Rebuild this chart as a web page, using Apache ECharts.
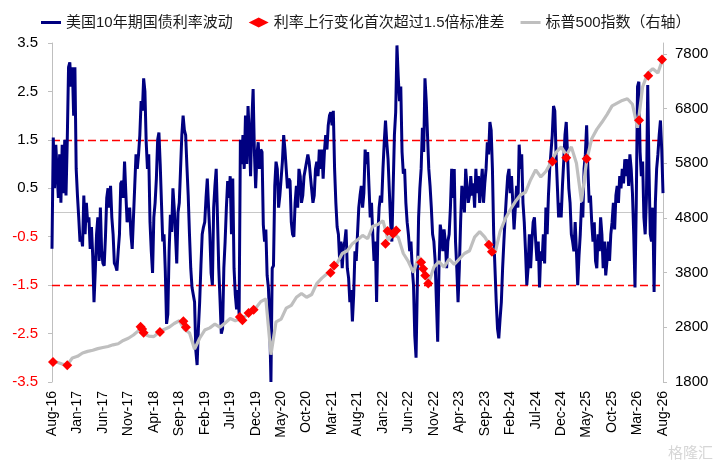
<!DOCTYPE html>
<html>
<head>
<meta charset="utf-8">
<script src="https://cdn.jsdelivr.net/npm/echarts@6/dist/echarts.min.js"></script>
<style>
  html, body { margin: 0; padding: 0; background: #fff; }
  #main { width: 717px; height: 464px; }
</style>
</head>
<body>
<div id="main"></div>
<script>
// x axis tick labels, one every 5 months starting Aug-16
var xLabels = ['Aug-16','Jan-17','Jun-17','Nov-17','Apr-18','Sep-18','Feb-19','Jul-19','Dec-19',
  'May-20','Oct-20','Mar-21','Aug-21','Jan-22','Jun-22','Nov-22','Apr-23','Sep-23','Feb-24',
  'Jul-24','Dec-24','May-25','Oct-25','Mar-26','Aug-26'];

// 美国10年期国债利率波动, quarter-month steps from Aug-16 (one row = 5 months)
var rateVol = [
  -0.75, 1.55, 0.5, 1.4, 1.4, 0.3, 1.2, 0.2, 1.4, 0.4, 1.5, 0.35, 1.5, 3.0, 3.1, 2.6, 3.0, 2.0, 3.0, 0.9,
  0.35, -0.1, -0.6, -0.5, -0.7, 0.35, -0.45, 0.2, -0.2, -0.1, -0.75, -0.3, -0.9, -1.85, -1.2, -0.45, -0.1, -1.0, 0.1, -0.8,
  -1.05, -1.1, -0.5, 0.3, 0.5, 0.1, 0.55, -0.1, -0.45, -1.05, -1.1, -1.2, -0.8, -0.45, 0.6, 0.65, 0.3, 1.05, 0.4, -0.2,
  -0.2, 0.1, -0.45, -0.75, -0.75, 0.55, 1.2, 0.9, 1.2, 1.6, 2.3, 2.1, 2.77, 2.5, 1.45, 0.9, 1.2, -0.2, -0.8, -1.25,
  -0.1, 0.2, 0.7, 1.5, 1.65, 1.0, 0.2, -0.6, -0.45, -1.2, -2.3, -2.1, -0.8, -0.05, -0.4, 0.5, 0.1, -0.45, -1.05, 0.0,
  0.2, 0.9, 1.6, 2.0, 1.7, 1.6, 0.95, 0.35, -0.45, -1.15, -1.55, -1.7, -1.85, -2.85, -3.15, -2.4, -1.85, -1.1, -0.45, -0.3,
  -0.2, 0.3, 0.7, 0.1, -0.45, -1.25, -1.5, 0.1, 0.55, 0.9, -0.1, -1.15, -1.8, -2.5, -2.4, -1.15, -0.6, 0.1, 0.65, 0.3,
  0.75, -0.45, 0.7, -1.15, -1.7, -2.0, -1.6, -2.1, 1.5, 1.0, 1.6, 0.9, 2.0, 1.0, 2.2, 1.6, 0.75, 1.9, 2.55, 1.25,
  0.5, 1.2, 1.45, 0.9, 1.3, 1.25, -0.25, -0.6, -0.35, -1.3, -1.55, -2.2, -3.5, -1.15, -1.1, 0.55, 1.05, 0.9, 0.1, 0.35,
  0.35, 1.05, 1.6, 1.3, 0.9, 0.5, 0.7, 0.65, -0.2, -0.45, -0.5, 0.2, 0.55, 0.1, 0.9, 0.75, 0.2, 0.35, 0.75, 0.9,
  0.9, 1.2, 1.05, 0.75, 0.75, 0.2, 0.35, 0.9, 1.05, 0.75, 1.3, 0.9, 1.3, 0.7, 1.25, 1.6, 1.3, 1.8, 2.0, 2.07,
  1.8, 2.1, 0.9, 0.2, -0.3, -0.45, -1.0, -0.6, -1.15, -0.7, -0.6, -0.35, -1.15, -1.35, -1.85, -1.6, -2.25, -1.7, -0.8, -1.0,
  -0.45, 0.1, 0.35, 0.55, 0.1, 0.4, 1.3, 1.0, 1.25, 0.55, -0.1, 0.2, -0.45, -1.0, -0.6, -1.85, -0.45, 0.1, 0.35, 0.2,
  0.9, 1.45, 1.9, 1.45, 1.1, 0.45, -0.2, -0.6, 0.5, 1.6, 2.07, 3.45, 2.8, 2.3, 2.6, 1.25, 0.8, 0.9, 0.2, -0.2,
  -0.45, -0.8, -0.6, -1.15, -1.5, -2.55, -3.0, -1.5, -0.1, 0.5, 0.9, 1.75, 1.25, 2.77, 2.3, 1.6, 0.9, 0.55, 0.1, -0.45,
  -0.6, -1.0, -1.85, -2.67, -1.15, -0.25, -0.45, -0.8, -0.35, -0.6, -1.15, -0.6, -0.45, 0.1, 0.9, 0.3, 0.9, -0.6, -1.15, -1.85,
  -1.15, -0.2, 0.55, 0.35, 0.0, 0.9, 0.55, 0.2, 0.35, 0.75, 0.35, 0.6, 0.1, 0.9, 0.4, 0.75, 0.2, 0.55, 0.9, 0.2,
  0.6, 0.9, 1.45, 1.2, 1.87, 1.7, 0.9, -0.45, -1.15, -1.85, -2.4, -2.6, -2.2, -1.85, -1.15, -0.6, -0.1, 0.35, 0.75, 0.9,
  0.4, 0.75, 0.2, -0.35, 0.1, 0.55, 0.1, 1.4, 0.9, 1.2, 0.2, -0.2, -0.8, -1.5, -1.15, -0.45, -1.15, -0.6, -0.2, -0.1,
  -0.6, -1.0, -0.6, -1.55, -0.8, -1.0, -0.45, -1.05, 0.1, -0.45, 0.35, 0.9, 0.9, 1.6, 2.2, 2.1, 1.2, 0.55, -0.1, 0.2,
  -0.1, 0.55, 1.05, 1.6, 1.87, 1.2, 0.5, 0.2, -0.45, -0.6, -0.8, -0.2, -0.8, -1.5, -0.9, -0.45, 0.2, -0.1, 0.9, 1.2,
  1.8, 0.9, 0.2, 0.35, -0.2, -0.6, -0.2, -1.0, -1.15, -0.45, -0.8, -0.1, -0.45, -1.15, -0.6, -1.3, -1.0, -0.6, -1.0, -0.45,
  -0.2, 0.2, -0.35, 0.35, 0.55, 0.2, 0.75, 0.5, 0.9, 0.6, 1.1, 0.75, 1.1, 0.55, 1.2, 0.9, 0.4, -0.45, -1.55, 0.2,
  2.6, 2.7, 1.25, 0.75, 1.05, -0.1, -0.45, 0.3, 2.63, 0.9, -0.45, -0.6, 0.1, -1.64, 0.2, 0.9, 1.2, 1.6, 1.9, 1.3,
  0.4
];

// 标普500指数, monthly from Aug-16
var spx = [
  2170, 2160, 2130, 2110, 2240, 2270, 2330, 2360, 2380, 2410,
  2430, 2450, 2480, 2500, 2560, 2600, 2660, 2740, 2680, 2640,
  2630, 2710, 2760, 2800, 2870, 2920, 2760, 2700, 2400, 2600,
  2750, 2790, 2860, 2800, 2880, 2960, 2920, 2960, 3000, 3080,
  3150, 3270, 3320, 2300, 2900, 2950, 3150, 3200, 3350, 3420,
  3350, 3400, 3600, 3700, 3780, 3850, 3970, 4150, 4200, 4330,
  4400, 4480, 4420, 4650, 4680, 4750, 4400, 4500, 4450, 4150,
  4000, 3800, 4100, 3850, 3620, 3900, 4000, 3900, 4050, 3950,
  4050, 4150, 4200, 4450, 4550, 4450, 4300, 4150, 4550, 4780,
  4950, 5100, 5220, 5270, 5500, 5680, 5550, 5650, 5820, 6000,
  6100, 5950, 6100, 5800, 5100, 5850, 6250, 6420, 6550, 6690,
  6850, 6900, 6950, 6980, 6880, 6450, 7200, 7450, 7530, 7450,
  7720
];

// 利率上行变化首次超过1.5倍标准差: month offset from Aug-16, index level
var signalMonths = [0.2, 3.0, 17.4, 17.7, 18.0, 21.2, 25.8, 26.3, 36.9, 37.4, 38.6, 39.6,
  54.7, 55.4, 65.5, 65.9, 67.0, 67.6, 72.5, 72.9, 73.3, 73.9, 85.8, 86.4,
  98.3, 101.0, 105.0, 115.3, 117.1, 119.8];
var signalValues = [2166, 2105, 2810, 2770, 2700, 2714, 2910, 2800, 2990, 2930, 3060, 3120,
  3800, 3930, 4330, 4560, 4510, 4570, 3990, 3870, 3750, 3600, 4310, 4180,
  5835, 5900, 5885, 6585, 7400, 7700];

var bandUp = 1.5, bandDown = -1.5;

var rateData = rateVol.map(function (v, i) { return [i * 0.25, v]; });
var spxData = spx.map(function (v, i) { return [i, v]; });
var signalData = signalMonths.map(function (m, i) { return [m, signalValues[i]]; });

var labelFont = 'Liberation Sans, Arial, sans-serif';
// flat bar legend icon (bbox padded to 20x10)
var barIcon = 'path://M0,0L0,0M0,3.5L20,3.5L20,6.5L0,6.5ZM20,10L20,10';

var option = {
  animation: false,
  backgroundColor: '#fff',
  legend: {
    top: 10,
    left: 36,
    itemWidth: 20,
    itemHeight: 10,
    itemGap: 16,
    textStyle: { fontSize: 15, color: '#1a1a1a', fontFamily: 'Liberation Sans, Noto Sans CJK SC, sans-serif' },
    data: [
      { name: '美国10年期国债利率波动', icon: barIcon },
      { name: '利率上行变化首次超过1.5倍标准差', icon: 'diamond' },
      { name: '标普500指数（右轴）', icon: barIcon }
    ]
  },
  grid: { left: 52, right: 54, top: 43, bottom: 82 },
  xAxis: {
    type: 'value',
    min: 0,
    max: 120,
    interval: 5,
    axisLine: { show: false },
    axisTick: { show: false },
    splitLine: { show: false },
    axisLabel: {
      rotate: 90,
      margin: 9,
      fontSize: 14,
      color: '#000',
      fontFamily: labelFont,
      formatter: function (v) { return xLabels[Math.round(v / 5)]; }
    }
  },
  yAxis: [{
    type: 'value',
    min: -3.5,
    max: 3.5,
    interval: 1,
    axisLine: { show: true, lineStyle: { color: '#bfbfbf', width: 1 } },
    axisTick: { show: true, length: 4, lineStyle: { color: '#bfbfbf' } },
    splitLine: { show: false },
    axisLabel: {
      margin: 14,
      fontSize: 15,
      fontFamily: labelFont,
      formatter: function (v) { return v.toFixed(1); },
      color: function (v) { return Number(v) < 0 ? '#ff0000' : '#000'; }
    }
  }, {
    type: 'value',
    min: 1800,
    max: 8000,
    interval: 1000,
    axisLine: { show: true, lineStyle: { color: '#bfbfbf', width: 1 } },
    axisTick: { show: true, length: 4, lineStyle: { color: '#bfbfbf' } },
    splitLine: { show: false },
    axisLabel: {
      margin: 12,
      fontSize: 15,
      color: '#000',
      fontFamily: labelFont,
      showMaxLabel: false,
      formatter: function (v) { return String(v); }
    }
  }],
  series: [{
    name: '美国10年期国债利率波动',
    type: 'line',
    data: rateData,
    yAxisIndex: 0,
    symbol: 'none',
    z: 2,
    lineStyle: { color: '#000080', width: 3 },
    itemStyle: { color: '#000080' },
    markLine: {
      silent: true,
      z: 1,
      symbol: 'none',
      label: { show: false },
      lineStyle: { color: '#ff0000', type: [8, 4], width: 1.3 },
      data: [
        { yAxis: bandUp },
        { yAxis: bandDown },
        { yAxis: 0, lineStyle: { color: '#c8c8c8', type: 'solid', width: 1.2 } }
      ]
    }
  }, {
    name: '标普500指数（右轴）',
    type: 'line',
    data: spxData,
    yAxisIndex: 1,
    symbol: 'none',
    z: 3,
    lineStyle: { color: '#bfbfbf', width: 3.2 },
    itemStyle: { color: '#bfbfbf' }
  }, {
    name: '利率上行变化首次超过1.5倍标准差',
    type: 'scatter',
    data: signalData,
    yAxisIndex: 1,
    symbol: 'diamond',
    symbolSize: 10,
    z: 4,
    itemStyle: { color: '#ff0000', opacity: 1 }
  }],
  graphic: [{
    type: 'text',
    right: 4,
    bottom: 4,
    style: { text: '格隆汇', fontSize: 15, fill: '#d6d6d6', fontFamily: 'Noto Sans CJK SC' }
  }]
};

var myChart = echarts.init(document.getElementById('main'));
myChart.setOption(option);
</script>
</body>
</html>
